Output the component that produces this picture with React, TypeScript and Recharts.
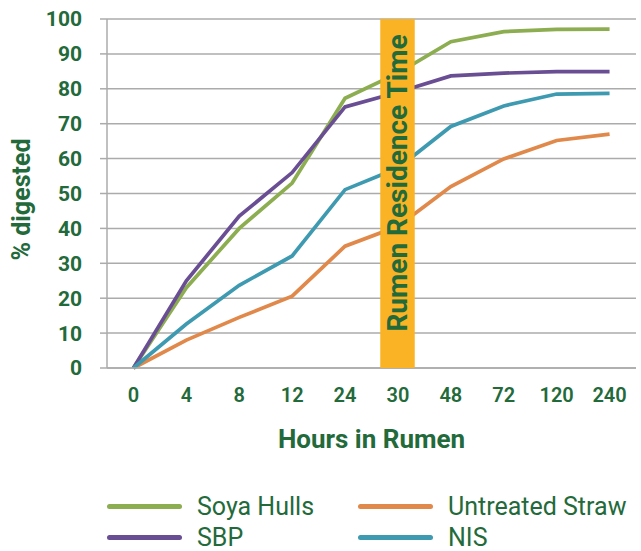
import React from 'react';
import {
  ComposedChart,
  Line,
  Bar,
  XAxis,
  YAxis,
  CartesianGrid,
  LabelList,
} from 'recharts';

const hours = ['0', '4', '8', '12', '24', '30', '48', '72', '120', '240'];
const soyaHulls = [0, 23, 40, 53, 77.3, 84.5, 93.5, 96.4, 97, 97.1];
const sbp = [0, 25, 43.5, 56, 74.8, 79, 83.7, 84.5, 84.9, 84.9];
const untreatedStraw = [0, 8, 14.5, 20.6, 34.9, 40.6, 52, 59.9, 65.2, 67];
const nis = [0, 12.6, 23.7, 32.1, 51.1, 57.3, 69.2, 75.1, 78.5, 78.7];
const residenceBand = [null, null, null, null, null, 100, null, null, null, null];
const yTicks = [0, 10, 20, 30, 40, 50, 60, 70, 80, 90, 100];

const series = [
  { key: 'soya', name: 'Soya Hulls', color: '#8cad50', values: soyaHulls },
  { key: 'straw', name: 'Untreated Straw', color: '#e1894a', values: untreatedStraw },
  { key: 'sbp', name: 'SBP', color: '#6a4e93', values: sbp },
  { key: 'nis', name: 'NIS', color: '#3e9ab0', values: nis },
];

const data = hours.map((h, i) => {
  const row: Record<string, number | string | null> = { hour: h, band: residenceBand[i] };
  series.forEach((s) => {
    row[s.key] = s.values[i];
  });
  return row;
});

const textGreen = '#236a3b';
const gridGrey = '#ababab';
const bandColor = '#f9b325';
const font = 'Roboto, sans-serif';

const chartProps = {
  width: 641,
  height: 470,
  data,
  margin: { top: 19, right: 5, bottom: 0, left: 0 },
};

const BandLabel = (props: any) => {
  const { x, y, width, height } = props;
  if (x == null || !height) return null;
  const cx = x + width / 2;
  const cy = y + height * 0.47;
  return (
    <text
      x={cx}
      y={cy}
      transform={`rotate(-90, ${cx}, ${cy})`}
      textAnchor="middle"
      dominantBaseline="central"
      fill={textGreen}
      fontFamily={font}
      fontWeight={700}
      fontSize={28}
    >
      Rumen Residence Time
    </text>
  );
};

const YTitle = (props: any) => {
  const vb = props.viewBox || {};
  const cy = (vb.y || 0) + (vb.height || 0) / 2 + 6;
  const cx = 21;
  return (
    <text
      x={cx}
      y={cy}
      transform={`rotate(-90, ${cx}, ${cy})`}
      textAnchor="middle"
      dominantBaseline="central"
      fill={textGreen}
      fontFamily={font}
      fontWeight={700}
      fontSize={25}
    >
      % digested
    </text>
  );
};

export default function App() {
  return (
    <div style={{ position: 'absolute', left: 0, top: 0, width: 641, height: 551, background: '#fff' }}>
      <ComposedChart {...chartProps}>
        <CartesianGrid vertical={false} stroke={gridGrey} strokeWidth={1.5} />
        <XAxis
          dataKey="hour"
          height={102}
          stroke={gridGrey}
          strokeWidth={1.5}
          tickLine={false}
          tickSize={0}
          tickMargin={20}
          tick={{ fill: textGreen, fontSize: 20, fontWeight: 600, fontFamily: font }}
          label={{
            value: 'Hours in Rumen',
            position: 'insideBottom',
            offset: 22,
            fill: textGreen,
            fontSize: 26,
            fontWeight: 700,
            fontFamily: font,
          }}
        />
        <YAxis
          width={107}
          domain={[0, 100]}
          ticks={yTicks}
          interval={0}
          stroke={gridGrey}
          strokeWidth={1.5}
          tickSize={7}
          tickMargin={18}
          tick={{ fill: textGreen, fontSize: 21, fontWeight: 700, fontFamily: font }}
          label={<YTitle />}
        />
        <Bar dataKey="band" fill={bandColor} barSize={34} isAnimationActive={false} />
        {series.map((s) => (
          <Line
            key={s.key}
            type="linear"
            dataKey={s.key}
            name={s.name}
            stroke={s.color}
            strokeWidth={3.7}
            dot={false}
            activeDot={false}
            isAnimationActive={false}
          />
        ))}
      </ComposedChart>
      {/* same chart frame again, only the residence band, so it sits over the lines */}
      <div style={{ position: 'absolute', left: 0, top: 0 }}>
        <ComposedChart {...chartProps}>
          <XAxis dataKey="hour" height={102} axisLine={false} tickLine={false} tick={false} />
          <YAxis width={107} domain={[0, 100]} ticks={yTicks} axisLine={false} tickLine={false} tick={false} />
          <Bar dataKey="band" fill={bandColor} barSize={34} isAnimationActive={false}>
            <LabelList dataKey="band" content={BandLabel} />
          </Bar>
        </ComposedChart>
      </div>
      <div
        style={{
          position: 'absolute',
          left: 107,
          top: 491,
          display: 'grid',
          gridTemplateColumns: '251px auto',
          fontFamily: font,
          fontSize: 25,
          lineHeight: 1,
          color: textGreen,
        }}
      >
        {series.map((s) => (
          <div key={s.key} style={{ display: 'flex', alignItems: 'center', height: 31 }}>
            <span
              style={{
                display: 'inline-block',
                width: 75,
                height: 5,
                borderRadius: 3,
                background: s.color,
                marginRight: 15,
              }}
            />
            <span>{s.name}</span>
          </div>
        ))}
      </div>
    </div>
  );
}
